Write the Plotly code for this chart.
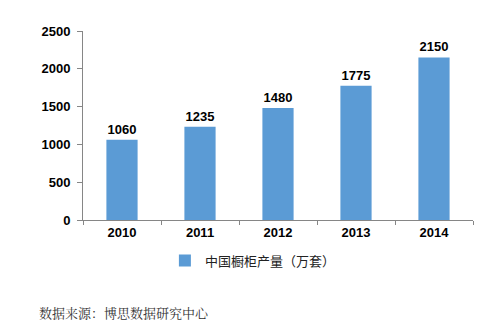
import plotly.graph_objects as go

years = ["2010", "2011", "2012", "2013", "2014"]
output = [1060, 1235, 1480, 1775, 2150]
series_name = "中国橱柜产量（万套）"
source_note = "数据来源：博思数据研究中心"

fig = go.Figure()
fig.add_trace(go.Bar(
    x=years, y=output, name=series_name,
    marker=dict(color="#5B9BD5", line=dict(width=0)),
    text=[str(v) for v in output], textposition="outside",
    textfont=dict(family="Liberation Sans, Arial", size=13, color="#000000"),
    texttemplate="<b>%{text}</b>", cliponaxis=False,
    showlegend=True,
))

fig.update_layout(
    width=500, height=322,
    margin=dict(l=83, r=27, t=31, b=102),
    paper_bgcolor="white", plot_bgcolor="white",
    bargap=0.6,
    font=dict(family="Liberation Sans, Arial", size=13, color="#000000"),
    showlegend=True,
    legend=dict(orientation="h", x=0.21, y=-0.135, xanchor="left", yanchor="top",
                font=dict(family="Noto Sans CJK SC", size=13, color="#222222"),
                itemwidth=30),
    xaxis=dict(
        showline=True, linecolor="#868686", linewidth=1,
        ticks="outside", tickson="boundaries", ticklen=4, tickcolor="#868686",
        tickfont=dict(family="Liberation Sans, Arial", size=13, color="#000000"),
        tickprefix="<b>", ticksuffix="</b>",
    ),
    yaxis=dict(
        range=[0, 2500], dtick=500, showgrid=False, zeroline=False,
        showline=True, linecolor="#868686", linewidth=1,
        ticks="outside", ticklen=5, tickcolor="#868686",
        tickfont=dict(family="Liberation Sans, Arial", size=13, color="#000000"),
        tickprefix="<b>", ticksuffix="</b>", ticklabelstandoff=4,
    ),
    annotations=[dict(
        text=source_note, xref="paper", yref="paper", x=-0.118, y=-0.487,
        xanchor="left", yanchor="middle", showarrow=False,
        font=dict(family="Noto Serif CJK SC, Noto Sans CJK SC", size=13, color="#333333"),
    )],
)

fig.write_html("out.html")
